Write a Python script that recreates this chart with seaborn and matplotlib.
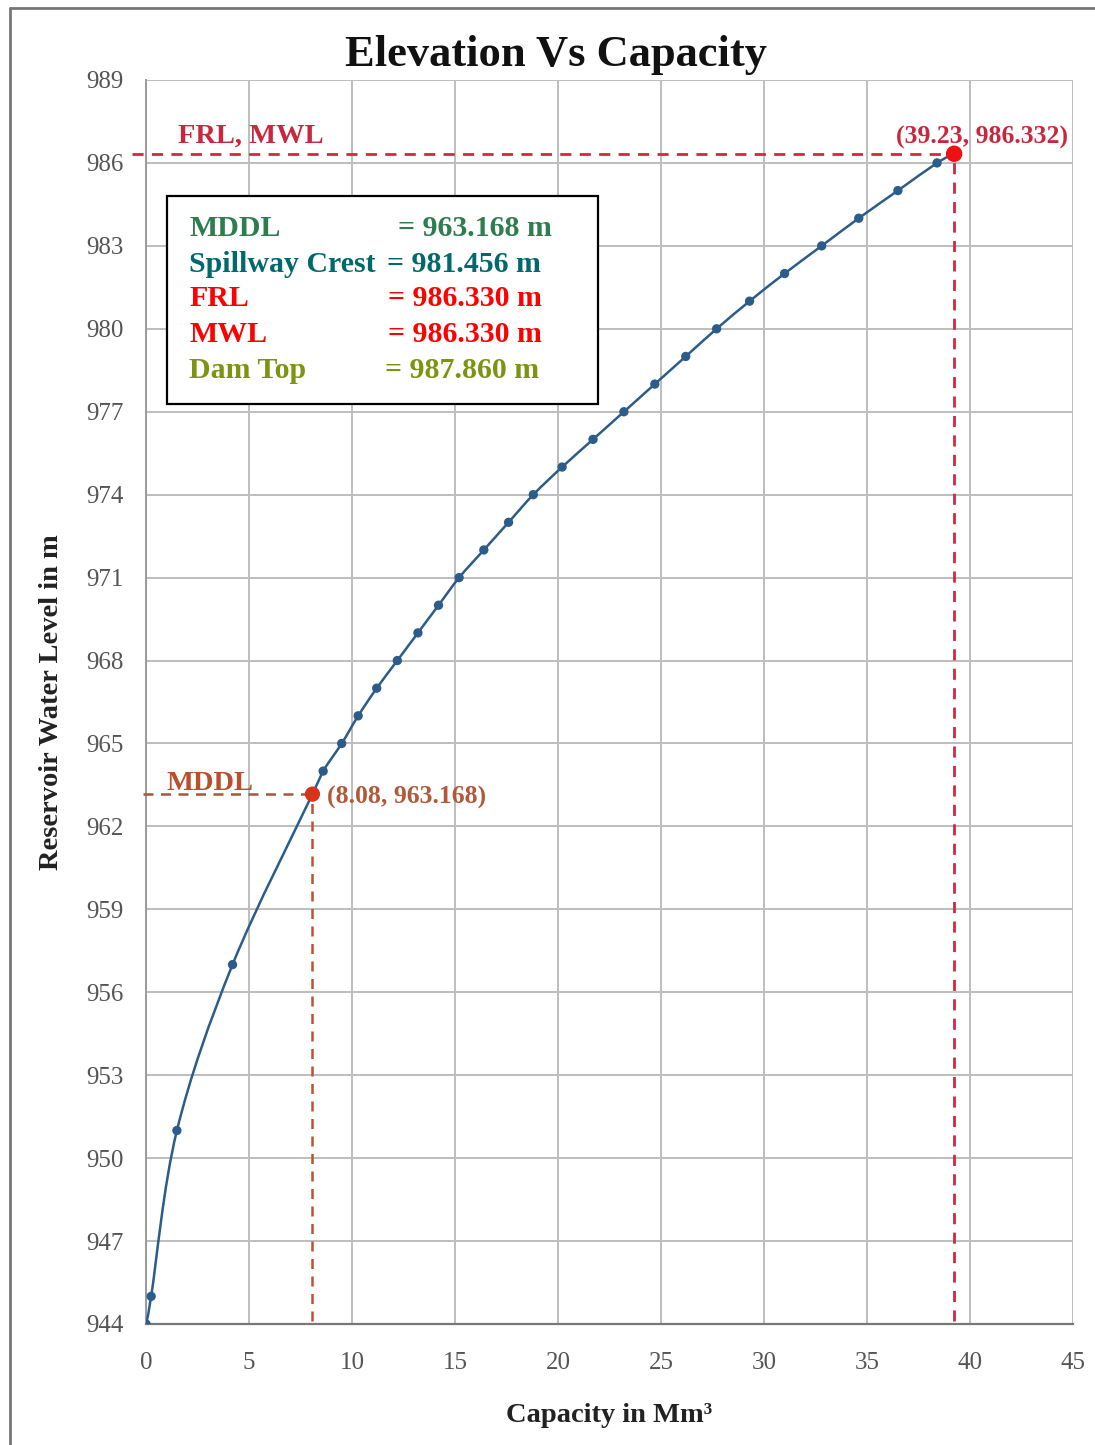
import matplotlib
matplotlib.use("Agg")
import matplotlib.pyplot as plt
import seaborn as sns
import pandas as pd
from matplotlib.lines import Line2D
from matplotlib.patches import Rectangle, PathPatch
from matplotlib.path import Path

# ---------------- data ----------------
capacity = [0, 0.25, 1.5, 4.2, 8.6, 9.5, 10.3, 11.2, 12.2, 13.2, 14.2, 15.2,
            16.4, 17.6, 18.8, 20.2, 21.7, 23.2, 24.7, 26.2, 27.7, 29.3,
            31.0, 32.8, 34.6, 36.5, 38.4, 39.23]
elevation = [944, 945, 951, 957, 964, 965, 966, 967, 968, 969, 970, 971,
             972, 973, 974, 975, 976, 977, 978, 979, 980, 981,
             982, 983, 984, 985, 986, 986.332]

mddl_point = (8.08, 963.168)
frl_point = (39.23, 986.332)

info_labels = ["MDDL", "Spillway Crest", "FRL", "MWL", "Dam Top"]
info_values = ["= 963.168 m", "= 981.456 m", "= 986.330 m", "= 986.330 m", "= 987.860 m"]
info_colors = ["#2e7d4f", "#00696b", "#ff0000", "#ff0000", "#7d9412"]

xticks = [0, 5, 10, 15, 20, 25, 30, 35, 40, 45]
yticks = [944, 947, 950, 953, 956, 959, 962, 965, 968, 971, 974, 977, 980, 983, 986, 989]

df = pd.DataFrame({"Capacity": capacity, "Elevation": elevation})

# ---------------- style ----------------
sns.set_style("whitegrid")
plt.rcParams["font.family"] = ["Liberation Serif", "DejaVu Serif"]

W, H = 1095, 1445
fig = plt.figure(figsize=(W / 100, H / 100), dpi=100)
ax = fig.add_axes([146 / W, 1 - 1324 / H, (1073 - 146) / W, (1324 - 80) / H])

line_c = "#2b5c8a"

# smoothed connecting line (Catmull-Rom as cubic Bezier segments),
# passing through the data points and the MDDL point which lies on the curve
curve = sorted(list(zip(capacity, elevation)) + [mddl_point])
xs = [p[0] for p in curve]
ys_ = [p[1] for p in curve]
n = len(xs)
verts = [(xs[0], ys_[0])]
codes = [Path.MOVETO]
for i in range(n - 1):
    p0 = (xs[max(i - 1, 0)], ys_[max(i - 1, 0)])
    p1 = (xs[i], ys_[i])
    p2 = (xs[i + 1], ys_[i + 1])
    p3 = (xs[min(i + 2, n - 1)], ys_[min(i + 2, n - 1)])
    c1 = (p1[0] + (p2[0] - p0[0]) / 6, p1[1] + (p2[1] - p0[1]) / 6)
    c2 = (p2[0] - (p3[0] - p1[0]) / 6, p2[1] - (p3[1] - p1[1]) / 6)
    verts += [c1, c2, p2]
    codes += [Path.CURVE4] * 3
ax.add_patch(PathPatch(Path(verts, codes), facecolor="none", edgecolor=line_c,
                       lw=1.8, zorder=4, transform=ax.transData))

sns.scatterplot(data=df, x="Capacity", y="Elevation", ax=ax, color=line_c,
                s=45, edgecolor="none", zorder=5, legend=False)

ax.set_xlim(0, 45)
ax.set_ylim(944, 989)
ax.set_xticks(xticks)
ax.set_yticks(yticks)
ax.grid(True, color="#bdbdbd", linewidth=1.4)
ax.set_axisbelow(True)
for s in ["top", "right"]:
    ax.spines[s].set_visible(False)
ax.spines["left"].set_color("#9a9a9a")
ax.spines["bottom"].set_color("#777777")
ax.spines["left"].set_linewidth(1.4)
ax.spines["bottom"].set_linewidth(1.6)
ax.tick_params(axis="both", colors="#8a8a8a", labelcolor="#555555",
               labelsize=18, length=6, width=1.2, direction="out")
ax.tick_params(axis="x", pad=14)
ax.tick_params(axis="y", pad=10)

ax.set_xlabel("Capacity in Mm³", fontsize=20.5, fontweight="bold",
              color="#222222", labelpad=21)
ax.set_ylabel("Reservoir Water Level in m", fontsize=20.5, fontweight="bold",
              color="#222222", labelpad=16)

# reference lines
frl_c = "#d3263f"
mddl_c = "#c2502f"
ax.plot([-0.7, frl_point[0]], [frl_point[1], frl_point[1]], ls=(0, (4, 3)),
        color=frl_c, lw=2, clip_on=False, zorder=3)
ax.plot([frl_point[0], frl_point[0]], [944.1, frl_point[1]], ls=(0, (4, 3)),
        color=frl_c, lw=2, zorder=3)
ax.plot([-0.15, mddl_point[0]], [mddl_point[1], mddl_point[1]], ls=(0, (4, 3)),
        color="#a5573a", lw=1.8, clip_on=False, zorder=3)
ax.plot([mddl_point[0], mddl_point[0]], [944.1, mddl_point[1]], ls=(0, (4, 3)),
        color=mddl_c, lw=1.8, zorder=3)

ax.scatter([mddl_point[0]], [mddl_point[1]], s=120, color="#d8321c", zorder=6,
           edgecolors="none")
ax.scatter([frl_point[0]], [frl_point[1]], s=140, color="#ee1111", zorder=6,
           edgecolors="none")

ax.text(1.55, 986.5, "FRL, MWL", fontsize=20.5, fontweight="bold", color="#c8283e",
        ha="left", va="bottom", zorder=7)
ax.text(1.0, 963.1, "MDDL", fontsize=20.5, fontweight="bold", color="#b8502e",
        ha="left", va="bottom", zorder=7)
ax.text(8.8, 963.05, "(8.08, 963.168)", fontsize=18.5, fontweight="bold",
        color="#b05a3a", ha="left", va="center", zorder=7)
ax.text(44.75, 986.5, "(39.23, 986.332)", fontsize=18.5, fontweight="bold",
        color="#c8283e", ha="right", va="bottom", zorder=7, clip_on=False)

# info box
bx0, by0, bx1, by1 = 167, 196, 598, 404
fig.patches.append(Rectangle((bx0 / W, 1 - by1 / H), (bx1 - bx0) / W,
                             (by1 - by0) / H, transform=fig.transFigure,
                             facecolor="white", edgecolor="black", lw=1.6,
                             zorder=10))
ys = [228, 264, 299, 334, 370]
vx = [398, 387, 388, 388, 385]
for lab, val, col, y, x2 in zip(info_labels, info_values, info_colors, ys, vx):
    fig.text(189 / W, 1 - y / H, lab, fontsize=21.5, fontweight="bold", color=col,
             ha="left", va="center", zorder=11)
    fig.text(x2 / W, 1 - y / H, val, fontsize=21.5, fontweight="bold", color=col,
             ha="left", va="center", zorder=11)

# title
fig.text(556 / W, 1 - 55 / H, "Elevation Vs Capacity", fontsize=32,
         fontweight="bold", color="#111111", ha="center", va="center")

# outer frame lines
fig.add_artist(Line2D([10 / W, 10 / W], [0, 1 - 8 / H], transform=fig.transFigure,
                      color="#777777", lw=2))
fig.add_artist(Line2D([10 / W, 1], [1 - 8 / H, 1 - 8 / H], transform=fig.transFigure,
                      color="#777777", lw=2))

fig.savefig("out.png", dpi=100)
